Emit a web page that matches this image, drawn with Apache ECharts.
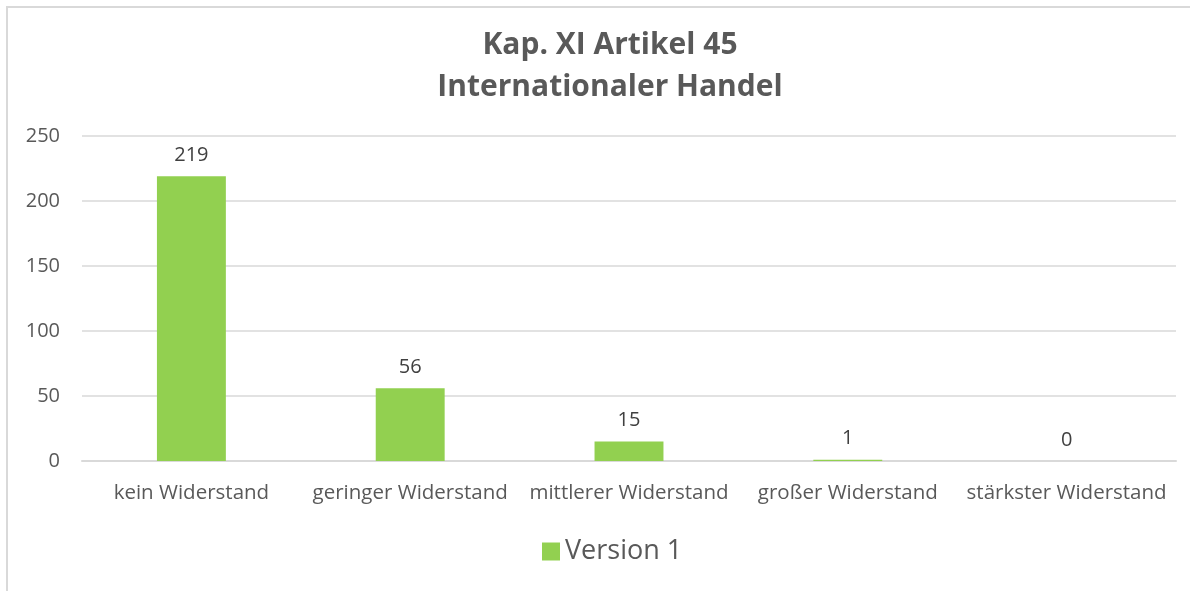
<!DOCTYPE html>
<html>
<head>
<meta charset="utf-8">
<script src="https://cdn.jsdelivr.net/npm/echarts@6/dist/echarts.min.js"></script>
<style>
  html, body { margin: 0; padding: 0; background: #fff; }
  #chart { width: 1190px; height: 591px; }
</style>
</head>
<body>
<div id="chart"></div>
<script>
// Kategorien und Werte
const categories = ['kein Widerstand', 'geringer Widerstand', 'mittlerer Widerstand', 'großer Widerstand', 'stärkster Widerstand'];
const version1 = [219, 56, 15, 1, 0];
const titleLines = ['Kap. XI Artikel 45', 'Internationaler Handel'];

const chartDom = document.getElementById('chart');
const myChart = echarts.init(chartDom);
const font = '"Open Sans", "Noto Sans", sans-serif';

const option = {
  animation: false,
  textStyle: { fontFamily: font },
  title: {
    text: titleLines.join('\n'),
    left: 605,
    top: 19,
    textAlign: 'center',
    textStyle: { fontSize: 30, fontWeight: 'bold', color: '#595959', lineHeight: 42, fontFamily: font }
  },
  graphic: [{
    type: 'rect',
    shape: { x: 7, y: 7, width: 1300, height: 700 },
    style: { fill: 'none', stroke: '#d9d9d9', lineWidth: 2 },
    silent: true
  }],
  legend: {
    bottom: 21,
    left: 537,
    itemWidth: 18,
    itemHeight: 18,
    icon: 'rect',
    itemGap: 8,
    textStyle: { fontSize: 27, color: '#595959', fontFamily: font }
  },
  grid: { left: 82, right: 14, top: 136, bottom: 130 },
  xAxis: {
    type: 'category',
    data: categories,
    axisTick: { show: false },
    axisLine: { lineStyle: { color: '#d9d9d9', width: 2 } },
    axisLabel: { color: '#595959', fontSize: 20.5, margin: 22, interval: 0 }
  },
  yAxis: {
    type: 'value',
    min: 0,
    max: 250,
    interval: 50,
    axisLine: { show: false },
    axisTick: { show: false },
    splitLine: { lineStyle: { color: '#d9d9d9', width: 1.5 } },
    axisLabel: { color: '#595959', fontSize: 20, margin: 22 }
  },
  series: [{
    name: 'Version 1',
    type: 'bar',
    data: version1,
    barWidth: '31.5%',
    itemStyle: { color: '#92d050' },
    label: { show: true, position: 'top', distance: 11, color: '#404040', fontSize: 20 }
  }]
};

myChart.setOption(option);
</script>
</body>
</html>
